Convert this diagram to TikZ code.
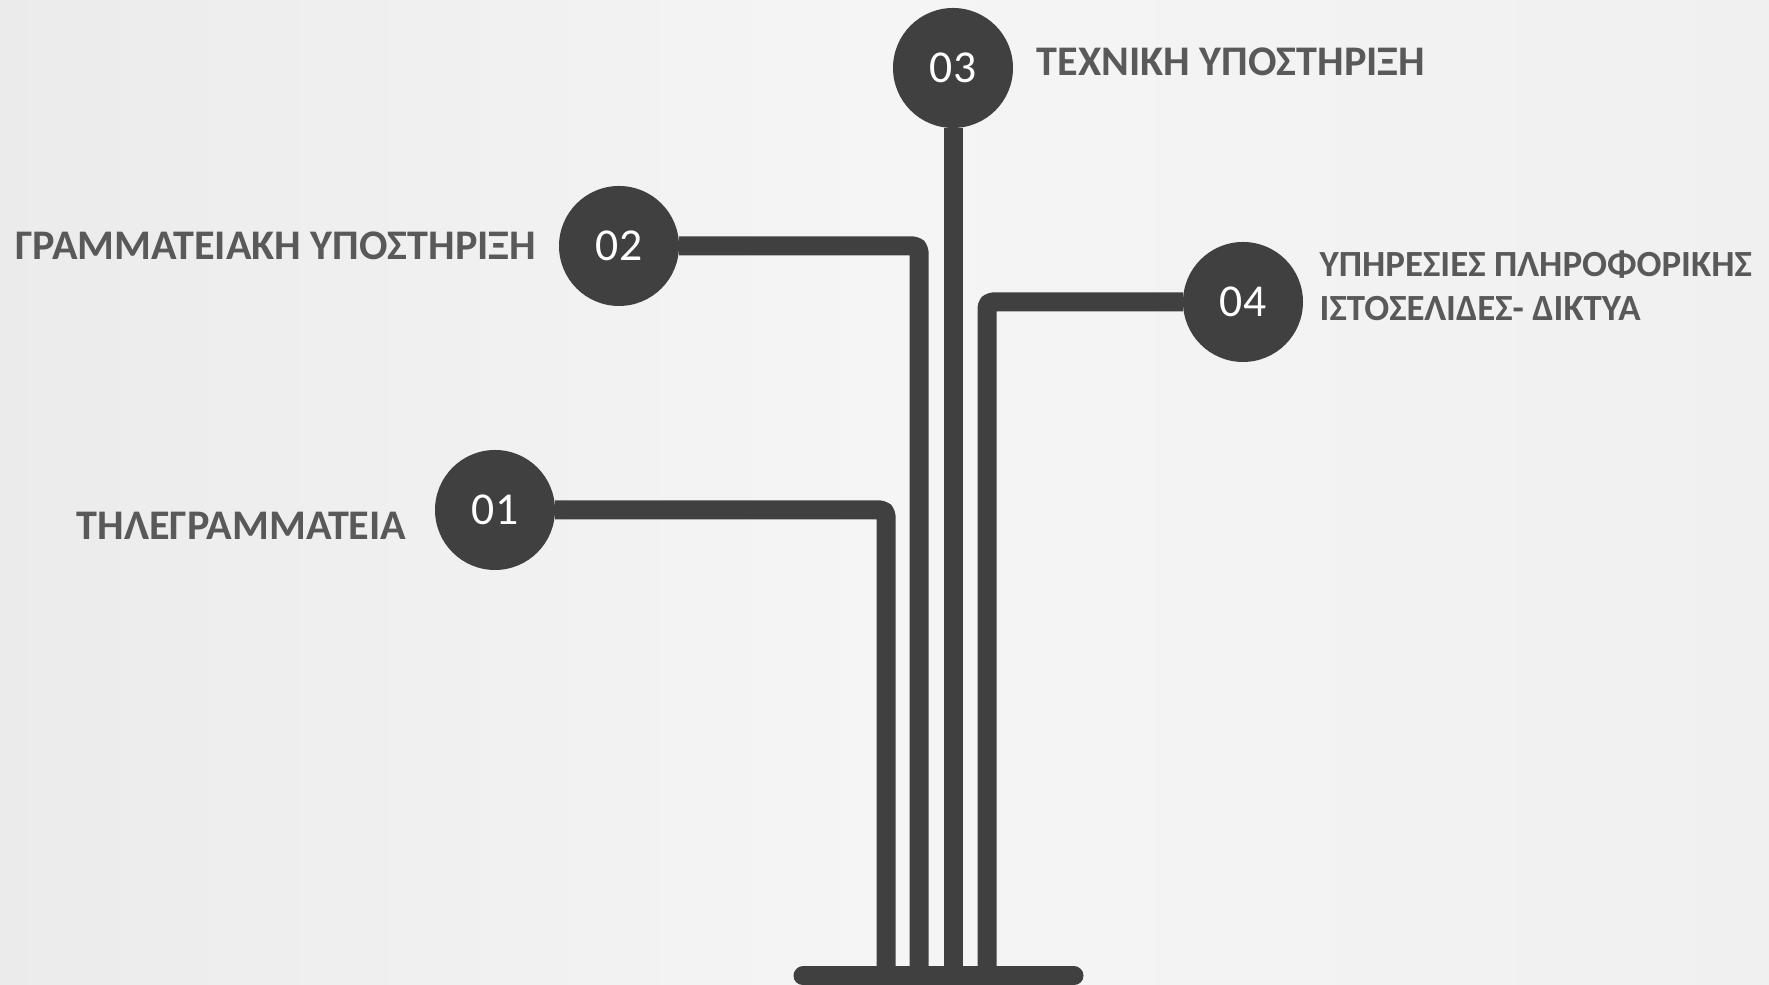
\documentclass[tikz,border=0pt]{standalone}
\usepackage{fontspec}
\setmainfont{Carlito}
\usepackage{xcolor}
\definecolor{stemgray}{RGB}{64, 64, 64}
\definecolor{labelgray}{RGB}{89, 89, 89}
\definecolor{paper}{RGB}{245, 245, 245}
\usetikzlibrary{positioning}

\begin{document}
\begin{tikzpicture}[
    dot/.style={circle, fill=stemgray, text=white, minimum size=1.2cm, inner sep=0pt, outer sep=0pt, font=\fontsize{13}{13}\selectfont},
    stem/.style={draw=stemgray, line width=0.19cm, rounded corners=1.5pt, line join=round},
    bar/.style={draw=stemgray, line width=0.19cm, line cap=round},
    tag/.style={text=labelgray, font=\bfseries\fontsize{12}{12.5}\selectfont, inner sep=0pt, align=left}
]
    \useasboundingbox (0, 0) rectangle (17.69, 9.85);
    \fill[left color=paper!96!black, right color=paper!98!black, middle color=paper] (0, 0) rectangle (17.69, 9.85);

    \node[dot] (c1) at (4.95, 4.75) {01};
    \node[dot] (c2) at (6.19, 7.39) {02};
    \node[dot] (c3) at (9.53, 9.17) {03};
    \node[dot] (c4) at (12.43, 6.83) {04};

    % feet on the base
    \coordinate (foot1) at (8.86, 0.09);
    \coordinate (foot2) at (9.19, 0.09);
    \coordinate (foot3) at (9.53, 0.09);
    \coordinate (foot4) at (9.87, 0.09);
    \coordinate (baseL) at (8.03, 0.09);
    \coordinate (baseR) at (10.74, 0.09);

    \draw[stem] (c1.east) -| (foot1);
    \draw[stem] (c2.east) -| (foot2);
    \draw[stem] (c3.south) -- (foot3);
    \draw[stem] (c4.west) -| (foot4);
    \draw[bar] (baseL) -- (baseR);

    % Labels
    \node[tag, left=0.28cm of c1, yshift=-0.16cm] (t1) {ΤΗΛΕΓΡΑΜΜΑΤΕΙΑ};
    \node[tag, left=0.22cm of c2] (t2) {ΓΡΑΜΜΑΤΕΙΑΚΗ ΥΠΟΣΤΗΡΙΞΗ};
    \node[tag, right=0.23cm of c3, yshift=0.06cm] (t3) {ΤΕΧΝΙΚΗ ΥΠΟΣΤΗΡΙΞΗ};
    \node[tag, right=0.16cm of c4, yshift=0.16cm, font=\bfseries\fontsize{10.5}{12.5}\selectfont] (t4) {ΥΠΗΡΕΣΙΕΣ ΠΛΗΡΟΦΟΡΙΚΗΣ\\ΙΣΤΟΣΕΛΙΔΕΣ- ΔΙΚΤΥΑ};
\end{tikzpicture}
\end{document}
